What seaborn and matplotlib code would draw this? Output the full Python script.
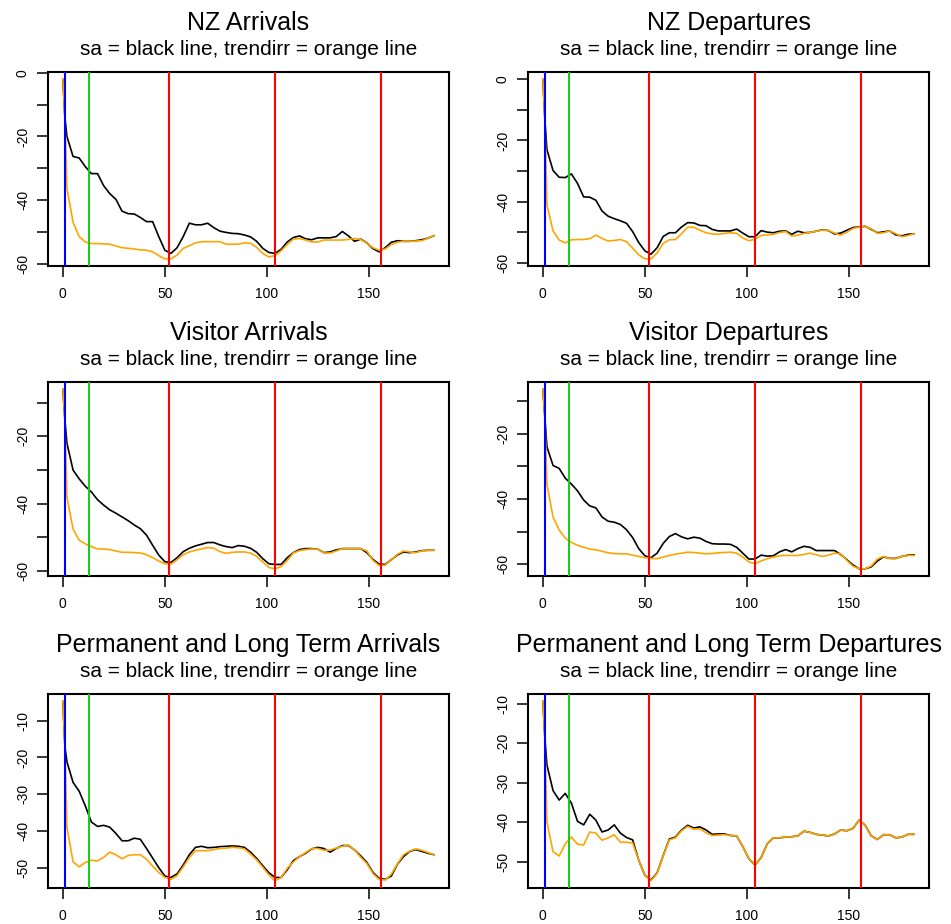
import matplotlib
matplotlib.use("Agg")
import matplotlib.pyplot as plt
import pandas as pd
import seaborn as sns
from matplotlib.ticker import MultipleLocator, FuncFormatter

# Week index of each observation
weeks = [0, 1] + list(range(2, 183, 3))

titles = [
    "NZ Arrivals", "NZ Departures",
    "Visitor Arrivals", "Visitor Departures",
    "Permanent and Long Term Arrivals", "Permanent and Long Term Departures",
]
subtitle = "sa = black line, trendirr = orange line"

# Seasonally adjusted (sa) and trend+irregular (trendirr) series, % change
nz_arr_sa = [-2, -14, -20, -26.3, -26.8, -29.5, -31.7, -31.7, -35.5, -38, -39.8, -43.5, -44.3, -44.4, -45.5, -46.8,
             -46.8, -51.5, -55.8, -56.8, -55, -51.5, -47.3, -47.8, -47.8, -47.3, -48.7, -49.8, -50.2, -50.5, -50.6,
             -51, -51.6, -53, -55.2, -56.5, -56.8, -55.5, -53.2, -51.8, -51.3, -52.2, -52.5, -51.9, -51.9, -51.9,
             -51.5, -49.9, -51.3, -53, -52.3, -53.5, -55.3, -56.3, -55, -53.3, -52.8, -53, -53, -52.8, -52.5, -52,
             -51.2]
nz_arr_trendirr = [-2, -14, -36.3, -47, -51.5, -53.2, -53.7, -53.7, -53.8, -53.9, -54.5, -55, -55.2, -55.4, -55.7,
                   -55.8, -56.3, -57.5, -58.5, -58.5, -57.3, -55.2, -54.4, -53.5, -53.1, -53.1, -53.1, -53.1, -53.9,
                   -53.9, -53.9, -53.5, -53.6, -54.9, -56.8, -57.9, -57.5, -56, -54, -52.3, -52.1, -52.6, -53.2,
                   -53.2, -52.6, -52.6, -52.6, -52.6, -52.4, -52.1, -52.4, -53.6, -55, -55.8, -55.4, -54, -53.3, -53,
                   -53, -52.9, -52.8, -52, -51.2]

nz_dep_sa = [0, -13.2, -23, -29.8, -32, -32.1, -30.9, -34, -38.4, -38.5, -39.5, -43, -44.7, -45.5, -46.2, -47, -49.7,
             -53.3, -56, -57.1, -55, -51.3, -50.1, -50.1, -48.2, -46.8, -46.9, -47.7, -47.8, -49, -49.5, -49.5,
             -49.5, -48.9, -50.2, -51.4, -51.4, -49.4, -49.9, -50.1, -49.6, -49.5, -50.6, -49.6, -50.1, -50, -49.6,
             -49.1, -49.4, -50.5, -50.2, -49.3, -48.4, -48.2, -48, -49, -50.1, -49.8, -49.5, -50.8, -51.1, -50.6,
             -50.4]
nz_dep_trendirr = [0, -13.2, -41, -49.5, -52.5, -53.4, -52.4, -52.3, -52.3, -52, -50.9, -51.9, -52.8, -52.6, -52.3,
                   -53, -55.1, -57.3, -58.6, -58.6, -56.7, -53.6, -52.4, -52.3, -50.4, -48.3, -48.3, -49.3, -50.1,
                   -50.5, -50.6, -50.3, -50.1, -50.3, -51.8, -52.7, -52.2, -51, -50.8, -50.6, -50, -49.7, -51.2,
                   -50.9, -50.3, -50, -49.6, -49.2, -49.4, -50.2, -50.9, -49.9, -48.7, -48.3, -48.1, -48.8, -50.3,
                   -50.1, -49.5, -50.4, -51.4, -51, -50.4]

vis_arr_sa = [-6, -15, -22, -30, -32.6, -34.8, -36.5, -38.8, -40.4, -41.8, -42.8, -43.9, -45, -46.3, -47.4, -49.3,
              -52.3, -55.2, -57.2, -57.4, -56, -54.2, -53.2, -52.5, -52, -51.5, -51.5, -52.2, -52.7, -53, -52.4,
              -52.6, -53.2, -54.4, -56.3, -57.8, -58, -58, -56, -54.5, -53.6, -53.3, -53.3, -53.5, -54.5, -54.3,
              -53.7, -53.3, -53.3, -53.3, -53.3, -54.5, -56.5, -57.9, -58, -56.6, -55.2, -54.3, -54.5, -54.3, -53.9,
              -53.8, -53.8]
vis_arr_trendirr = [-6, -15, -38, -47.5, -50.8, -51.9, -52.7, -53.4, -53.4, -53.6, -54, -54.4, -54.4, -54.5, -54.6,
                    -55.1, -56, -57, -57.8, -57.9, -56.6, -55.1, -54.3, -53.8, -53.4, -53, -53.2, -54.2, -54.7,
                    -54.4, -54.3, -54.3, -54.6, -55.6, -57.3, -58.9, -59.3, -58.6, -56.8, -54.6, -53.9, -53.6,
                    -53.4, -53.5, -54.6, -54.6, -54, -53.3, -53.3, -53.3, -53.3, -54, -56.8, -58.3, -58.2, -56.6,
                    -55, -54, -54.3, -54.5, -54, -53.8, -53.8]

vis_dep_sa = [-6.3, -15.1, -24, -29.7, -30.6, -33.6, -35.4, -37.5, -40.3, -42.1, -42.7, -45.5, -46.8, -47.1, -47.8,
              -49.4, -51.8, -55.2, -57.4, -58, -56.6, -53.6, -51.5, -50.6, -51.6, -52.2, -51.7, -52, -53, -53.7,
              -53.8, -53.8, -53.9, -54.8, -56.6, -58.4, -58.4, -57.2, -57.5, -57.4, -56.2, -55.5, -56.2, -55.2,
              -54.5, -54.8, -55.8, -55.8, -55.8, -55.8, -57, -58.6, -60.2, -61.4, -61.4, -60.8, -59, -57.7, -58.2,
              -58.2, -57.6, -57.2, -57.1]
vis_dep_trendirr = [-6.3, -15.1, -35.5, -45.5, -49.5, -52, -53.3, -54.2, -54.8, -55.3, -55.6, -56, -56.5, -56.7,
                    -56.8, -56.8, -57.2, -57.6, -58, -58.2, -58.3, -57.8, -57.3, -56.9, -56.6, -56.3, -56.4, -56.6,
                    -56.8, -56.7, -56.5, -56.4, -56.3, -56.6, -57.8, -59.3, -59.8, -59, -58.3, -57.8, -57.4, -57.3,
                    -57.3, -57.3, -57, -56.6, -57.1, -57.6, -57.2, -56.6, -56.8, -58.8, -60.6, -61.4, -61.4, -60.5,
                    -58.4, -57.6, -58.2, -58.3, -57.6, -57.3, -57.3]

plt_arr_sa = [-4.7, -17, -21.2, -26.8, -29.2, -33.2, -37.6, -38.8, -38.5, -39, -40.7, -42.7, -42.7, -42, -42.3,
              -44.8, -47.4, -50, -52.3, -52.7, -51.7, -49.3, -46.5, -44.5, -44.2, -44.6, -44.5, -44.3, -44.2, -44.1,
              -44.2, -44.5, -45.8, -47.5, -49.5, -51.4, -52.7, -52.7, -50.6, -48.1, -47, -46.1, -44.9, -44.5, -44.8,
              -45.8, -44.8, -44, -44, -45.2, -46.8, -48.6, -51.3, -52.9, -53.2, -52.3, -49.1, -47, -45.6, -45.1,
              -45.6, -46.1, -46.5]
plt_arr_trendirr = [-4.7, -17, -39, -48.4, -49.8, -48.6, -48, -48.2, -47.2, -45.8, -46.5, -47.6, -46.7, -46.5,
                    -46.5, -47.7, -49.6, -51.3, -52.7, -53.2, -52.2, -49.8, -47.3, -45.4, -45.4, -45.4, -45.1, -44.8,
                    -44.7, -44.5, -44.6, -44.9, -46.3, -47.9, -49.9, -52, -53.6, -52.7, -50.2, -48.5, -47, -45.9,
                    -44.8, -44.8, -45.3, -45.2, -44.7, -44.2, -43.9, -45.2, -47.2, -48.9, -51.6, -53.2, -53.4, -51.8,
                    -49, -46.5, -45.5, -44.9, -45.3, -45.9, -46.5]

plt_dep_sa = [-9.3, -18.7, -25.5, -32, -34.4, -32.7, -35.2, -39.8, -40.7, -38, -39.5, -42.5, -42, -40.7, -42.8,
              -43.9, -44.5, -49.7, -53.5, -54.7, -52.9, -48.5, -44.3, -43.8, -42, -40.8, -41.5, -41.2, -42, -43.1,
              -43, -43, -43.4, -43.5, -46.2, -49.3, -50.9, -49, -45.5, -44, -44, -43.8, -43.7, -43.5, -42.3, -42.6,
              -43.1, -43.3, -43.5, -43, -42, -42.2, -41.6, -39.5, -40.8, -43.5, -44.4, -43.2, -43.2, -44, -43.8,
              -43.1, -43.1]
plt_dep_trendirr = [-9.3, -18.7, -40, -47.5, -48.6, -45.5, -43.8, -45.6, -45.8, -42.5, -42.8, -44.6, -44, -43.2,
                    -45.1, -45.1, -45.3, -49.7, -53.5, -54.9, -53, -48.6, -44.5, -44, -42.2, -41.1, -41.8, -41.7,
                    -42.7, -43.4, -43.3, -43.2, -43.4, -43.5, -46.2, -49.3, -50.9, -49, -45.5, -44, -44, -43.8,
                    -43.7, -43.5, -42.3, -42.6, -43.1, -43.3, -43.5, -43, -42, -42.2, -41.6, -39.5, -40.8, -43.5,
                    -44.4, -43.2, -43.2, -44, -43.8, -43.1, -43.1]

sa_series = [nz_arr_sa, nz_dep_sa, vis_arr_sa, vis_dep_sa, plt_arr_sa, plt_dep_sa]
trendirr_series = [nz_arr_trendirr, nz_dep_trendirr, vis_arr_trendirr, vis_dep_trendirr,
                   plt_arr_trendirr, plt_dep_trendirr]

# Reference weeks marked with vertical lines
blue_week = 1
green_week = 13
red_weeks = [52, 104, 156]

# Every second y tick is labelled in the top two rows, every tick in the bottom row
label_every = [20, 20, 20, 20, 10, 10]

sns.set_theme(style="white")
plt.rcParams["font.family"] = ["Liberation Sans", "DejaVu Sans"]
plt.rcParams["axes.unicode_minus"] = False
plt.rcParams["text.color"] = "black"

W, H = 951, 924
fig = plt.figure(figsize=(W / 100, H / 100), dpi=100)
fig.patch.set_facecolor("white")

col_left = [48, 528]
row_top = [72, 382, 694]
panel_w, panel_h = 401, 194


def r_limits(values):
    lo, hi = min(values), max(values)
    pad = 0.04 * (hi - lo)
    return lo - pad, hi + pad


for i in range(6):
    r, c = divmod(i, 2)
    left, top = col_left[c], row_top[r]
    ax = fig.add_axes([left / W, 1 - (top + panel_h) / H, panel_w / W, panel_h / H])

    n = len(weeks)
    df = pd.DataFrame({
        "week": weeks * 2,
        "value": sa_series[i] + trendirr_series[i],
        "series": ["sa"] * n + ["trendirr"] * n,
    })
    sns.lineplot(data=df, x="week", y="value", hue="series", hue_order=["sa", "trendirr"],
                 palette={"sa": "black", "trendirr": "orange"}, sort=False,
                 legend=False, linewidth=1.2, ax=ax, zorder=2)

    ax.axvline(blue_week, color="blue", lw=1.5, zorder=3)
    ax.axvline(green_week, color="#1ec81e", lw=1.5, zorder=3)
    for w in red_weeks:
        ax.axvline(w, color="red", lw=1.5, zorder=3)

    ax.set_xlim(*r_limits(weeks))
    ax.set_ylim(*r_limits(sa_series[i] + trendirr_series[i]))
    ax.set_xlabel("")
    ax.set_ylabel("")

    ax.xaxis.set_major_locator(MultipleLocator(50))
    ax.yaxis.set_major_locator(MultipleLocator(10))
    step = label_every[i]
    ax.yaxis.set_major_formatter(FuncFormatter(
        lambda v, p, s=step: f"{int(round(v))}" if round(v) % s == 0 else ""))
    ax.tick_params(axis="both", which="major", direction="out", length=8, width=1.1,
                   color="black", labelsize=10, labelcolor="black",
                   left=True, bottom=True)
    ax.tick_params(axis="x", pad=7)
    ax.tick_params(axis="y", pad=5)
    for lab in ax.get_yticklabels():
        lab.set_rotation(90)
        lab.set_va("center")

    for sp in ax.spines.values():
        sp.set_visible(True)
        sp.set_color("black")
        sp.set_linewidth(1.5)

    ax.annotate(titles[i], xy=(0.5, 1), xycoords="axes fraction", xytext=(0, 42),
                textcoords="offset pixels", ha="center", va="baseline", fontsize=18,
                color="black")
    ax.annotate(subtitle, xy=(0.5, 1), xycoords="axes fraction", xytext=(0, 17),
                textcoords="offset pixels", ha="center", va="baseline", fontsize=15,
                color="black")

fig.savefig("out.png", dpi=100, facecolor="white")
